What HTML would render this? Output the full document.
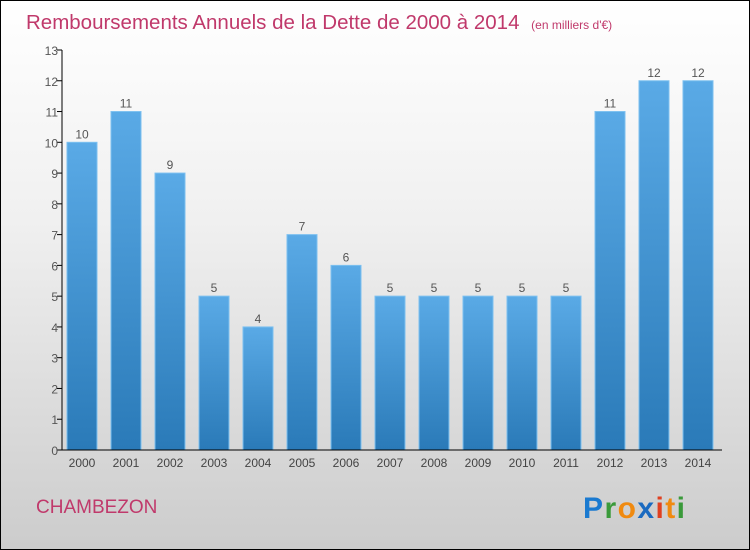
<!DOCTYPE html>
<html><head><meta charset="utf-8"><style>
body{margin:0}
#c{width:748px;height:548px;border:1px solid #000;background:linear-gradient(#fff,#f0f0f0 40%,#cccccc);position:relative;font-family:"Liberation Sans",sans-serif;overflow:hidden}
</style></head><body>
<div id="c">
<svg width="748" height="548" id="s">
<defs><linearGradient id="g" x1="0" y1="0" x2="0" y2="1"><stop offset="0" stop-color="#5aaae6"/><stop offset="1" stop-color="#2a7ab8"/></linearGradient></defs>
<text x="25" y="28" font-size="20.5" fill="#c0396b">Remboursements Annuels de la Dette de 2000 à 2014 <tspan font-size="12" dx="6">(en milliers d'€)</tspan></text>
<text x="35" y="512" font-size="19" fill="#c0396b">CHAMBEZON</text>
<g font-size="30" font-weight="bold"><text x="582" y="517" textLength="102"><tspan fill="#1a7ad0">P</tspan><tspan fill="#3a9a3a">r</tspan><tspan fill="#f08a10">o</tspan><tspan fill="#1a6ac0">x</tspan><tspan fill="#e04020">i</tspan><tspan fill="#f08a10">t</tspan><tspan fill="#3a9a3a">i</tspan></text></g>
<g id="plot"></g>
</svg></div>
<script>
const years=["2000","2001","2002","2003","2004","2005","2006","2007","2008","2009","2010","2011","2012","2013","2014"];
const values=[10,11,9,5,4,7,6,5,5,5,5,5,11,12,12];
const ticks=[0,1,2,3,4,5,6,7,8,9,10,11,12,13];
const NS="http://www.w3.org/2000/svg",p=document.getElementById('plot');
const y=v=>449-v*30.77, x=i=>81+i*44;
function mk(t,a,txt){const e=document.createElementNS(NS,t);for(const k in a)e.setAttribute(k,a[k]);if(txt!=null)e.textContent=txt;p.appendChild(e);return e;}
ticks.forEach(t=>{
 const l=mk('line',{x1:56,x2:61,y1:y(t),y2:y(t),stroke:'#000'});
 
 
 const tx=mk('text',{x:57,y:y(t)+5,'font-size':12,fill:'#555','text-anchor':'end'},t);
 
 
});
values.forEach((v,i)=>{
 const r=mk('rect',{x:x(i)-15,y:y(v),width:30,height:y(0)-y(v),fill:'url(#g)',stroke:'#7cc0f0','stroke-width':1});
 
 
 const lb=mk('text',{x:x(i),y:y(v)-4,'font-size':12,fill:'#555','text-anchor':'middle'},v);
 
 
 const xl=mk('text',{x:x(i),y:466,'font-size':12,fill:'#444','text-anchor':'middle'},years[i]);
 
 
});
const ya=mk('line',{x1:61,x2:61,y1:y(13),y2:y(0),stroke:'#000'});


const xa=mk('line',{x1:61,x2:721,y1:y(0),y2:y(0),stroke:'#000'});


</script>
</body></html>
